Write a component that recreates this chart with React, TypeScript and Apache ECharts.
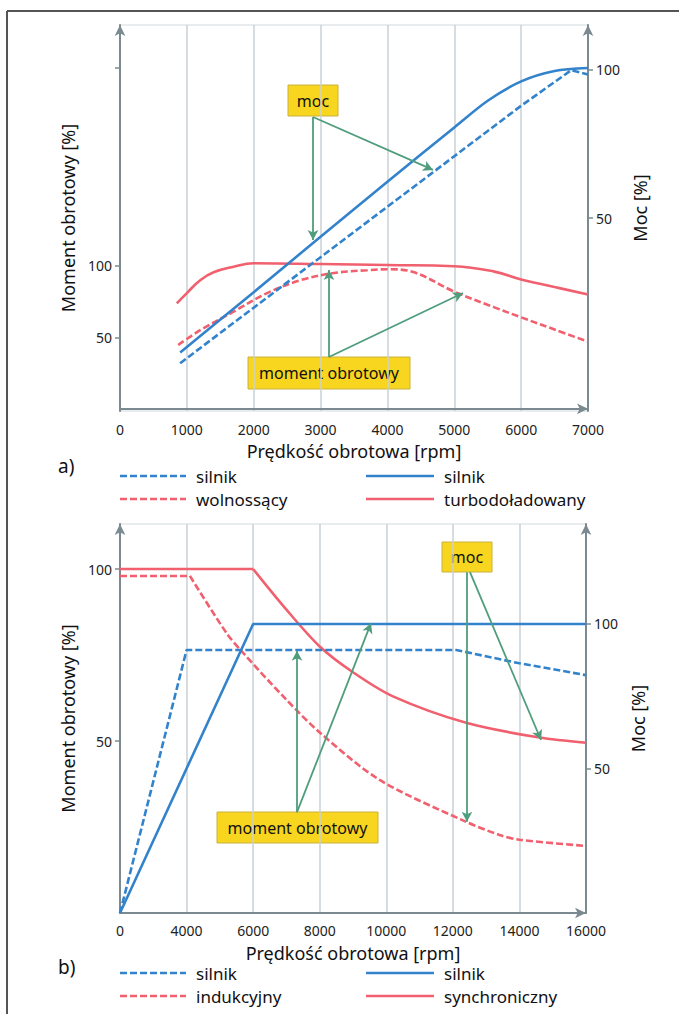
import React, { useEffect, useRef } from "react";
import * as echarts from "echarts";

// ---------- data ----------
const topRpmTicks = [0, 1000, 2000, 3000, 4000, 5000, 6000, 7000];
const bottomRpmTicks = [0, 4000, 6000, 8000, 10000, 12000, 14000, 16000];
const leftTickLabels = [50, 100];
const rightTickLabels = [50, 100];

// a) top chart – torque (left axis)
const turboRpm = [850, 1000, 1200, 1400, 1700, 2000, 3000, 4000, 5000, 5600, 6000, 6500, 7000];
const turboTorque = [73.8, 81, 90, 95.5, 99.4, 101.8, 101.3, 100.6, 99.8, 96, 90.5, 85.2, 80];
const naturalRpm = [870, 1200, 1700, 2200, 2700, 3200, 3700, 4000, 4400, 5000, 5600, 6000, 6500, 7000];
const naturalTorque = [44.7, 55, 68, 81, 90, 95, 97, 97.7, 95.5, 82, 71, 64, 55.5, 47];
// a) top chart – power (right axis)
const turboPowerRpm = [900, 2000, 3000, 4000, 5000, 5500, 6000, 6500, 7000];
const turboPower = [4.7, 25, 43.7, 62.2, 80.5, 89.5, 96, 99.5, 100.5];
const naturalPowerRpm = [900, 2000, 3000, 4000, 5000, 6000, 6750, 7000];
const naturalPower = [1.1, 19.8, 36.8, 53.8, 70.8, 87.8, 99.8, 98.3];

// b) bottom chart – torque (left axis)
const syncRpm = [0, 4000, 6000, 7000, 8000, 9000, 10200, 12400, 14600, 16000];
const syncTorque = [100, 100, 100, 88.2, 77.5, 70, 63, 55.3, 51, 49.5];
const syncBreak = 2; // index of the corner at 6000 rpm
const indRpm = [0, 4100, 5200, 5700, 7000, 8000, 9800, 12400, 13400, 14000, 16000];
const indTorque = [98, 98, 81.4, 75.6, 62, 52.5, 38.7, 26.5, 22.7, 21.3, 19.5];
const indBreak = 1; // index of the corner at 4100 rpm
// b) bottom chart – power (right axis)
const syncPowerRpm = [0, 6000, 16000];
const syncPower = [0, 100, 100];
const indPowerRpm = [0, 4000, 12100, 14000, 16000];
const indPower = [0, 91, 91, 86.4, 82.3];

// ---------- helpers ----------
const FONT = '"Noto Sans", "Open Sans", sans-serif';
const BLUE = "#3383cc";
const RED = "#f0606e";
const GREEN = "#4f9d7c";
const AXIS = "#7b8a90";
const GRIDC = "#c9d1d5";
const YELLOW = "#f8d51e";

function rpmToPos(r: number): number {
  for (let i = 0; i < bottomRpmTicks.length - 1; i++) {
    const a = bottomRpmTicks[i];
    const b = bottomRpmTicks[i + 1];
    if (r <= b) return i + (r - a) / (b - a);
  }
  return bottomRpmTicks.length - 1;
}
const zip = (xs: number[], ys: number[], fx: (v: number) => number = (v) => v) =>
  xs.map((x, i) => [fx(x), ys[i]]);

const arrowMark = (pairs: number[][][]) => ({
  silent: true,
  symbol: ["none", "arrow"],
  symbolSize: [8, 10],
  label: { show: false },
  emphasis: { disabled: true },
  lineStyle: { color: GREEN, width: 1.8, type: "solid" },
  data: pairs.map(([a, b]) => [{ coord: a }, { coord: b }]),
});

function xAxisCfg(gridIndex: number, min: number, max: number, interval: number, fmt: (v: number) => string, gap: number, margin: number) {
  return {
    type: "value",
    gridIndex,
    min,
    max,
    interval,
    name: "Prędkość obrotowa [rpm]",
    nameLocation: "middle",
    nameGap: gap,
    nameTextStyle: { fontFamily: FONT, fontSize: 18, color: "#111" },
    axisLine: { show: true, symbol: ["none", "arrow"], symbolSize: [8, 11], lineStyle: { color: AXIS, width: 2 } },
    axisTick: { show: false },
    axisLabel: { fontFamily: FONT, fontSize: 14, color: "#222", margin, formatter: fmt },
    splitLine: { show: true, lineStyle: { color: GRIDC, width: 1.5 } },
  };
}

function yAxisCfg(gridIndex: number, pos: "left" | "right", min: number, max: number, name: string, gap: number, tickVals: number[], namePad: number[] = [0, 0, 0, 0]) {
  return {
    type: "value",
    gridIndex,
    position: pos,
    min,
    max,
    name,
    nameLocation: "middle",
    nameGap: gap,
    nameTextStyle: { fontFamily: FONT, fontSize: 18, color: "#111", padding: namePad },
    axisLine: { show: true, onZero: false, symbol: ["none", "arrow"], symbolSize: [8, 11], lineStyle: { color: AXIS, width: 2 } },
    axisTick: { show: true, length: 5, lineStyle: { color: AXIS, width: 1.5 }, customValues: tickVals },
    axisLabel: { fontFamily: FONT, fontSize: 14, color: "#222", margin: 8, customValues: pos === "left" ? leftTickLabels : rightTickLabels },
    splitLine: { show: false },
  };
}

function lineSeries(name: string, data: number[][], xi: number, yi: number, color: string, dashed: boolean, smooth: number | boolean, mark?: any) {
  return {
    type: "line",
    name,
    xAxisIndex: xi,
    yAxisIndex: yi,
    data,
    showSymbol: false,
    symbol: "none",
    smooth,
    silent: true,
    lineStyle: { color, width: 2.6, type: dashed ? [7, 3] : "solid" },
    markLine: mark,
  };
}

const txt = (x: number, y: number, text: string, size: number, align = "left") => ({
  type: "text",
  x,
  y,
  style: { text, fill: "#111", font: `${size}px ${FONT}`, textAlign: align, textVerticalAlign: "middle", align, verticalAlign: "middle" },
});

function legendRow(y: number, x1: number, label1: string, c1: string, x2: number, label2: string, c2: string) {
  return [
    { type: "line", shape: { x1, y1: y, x2: x1 + 66, y2: y }, style: { stroke: c1, lineWidth: 2.6, lineDash: [7, 3] } },
    txt(x1 + 76, y, label1, 17),
    { type: "line", shape: { x1: x2, y1: y, x2: x2 + 68, y2: y }, style: { stroke: c2, lineWidth: 2.6 } },
    txt(x2 + 78, y, label2, 17),
  ];
}

function yellowBox(x: number, y: number, w: number, h: number, text: string) {
  return [
    { type: "rect", shape: { x, y, width: w, height: h }, style: { fill: YELLOW, stroke: "#c9b23c", lineWidth: 1 } },
    txt(x + w / 2, y + h / 2, text, 16, "center"),
  ];
}

export default function App() {
  const ref = useRef<HTMLDivElement>(null);
  useEffect(() => {
    document.body.style.margin = "0";
    if (!ref.current) return;
    const chart = echarts.init(ref.current, null, { renderer: "svg" });
    const syncPts = zip(syncRpm, syncTorque, rpmToPos);
    const indPts = zip(indRpm, indTorque, rpmToPos);
    const option: any = {
      animation: false,
      backgroundColor: "#ffffff",
      grid: [
        { left: 120, top: 25, width: 468, height: 386, show: true, borderColor: "#d3d9dc", borderWidth: 1 },
        { left: 120, top: 524, width: 466, height: 389, show: true, borderColor: "#d3d9dc", borderWidth: 1 },
      ],
      xAxis: [
        xAxisCfg(0, 0, 7000, 1000, (v) => String(v), 31, 11),
        xAxisCfg(1, 0, bottomRpmTicks.length - 1, 1, (v) => String(bottomRpmTicks[Math.round(v)]), 31, 10),
      ],
      yAxis: [
        yAxisCfg(0, "left", -1.5, 268.5, "Moment obrotowy [%]", 41, [50, 100, 238.4]),
        yAxisCfg(0, "right", -15, 115, "Moc [%]", 38, [50, 100], [0, 0, 0, 20]),
        yAxisCfg(1, "left", 0, 113.1, "Moment obrotowy [%]", 41, [50, 100]),
        yAxisCfg(1, "right", 0, 134.6, "Moc [%]", 36, [50, 100]),
      ],
      series: [
        lineSeries("wolnossący – moment", zip(naturalRpm, naturalTorque), 0, 0, RED, true, 0.35),
        lineSeries("turbodoładowany – moment", zip(turboRpm, turboTorque), 0, 0, RED, false, 0.45,
          arrowMark([
            [[3126, 36.3], [3126, 97.1]],
            [[3126, 36.3], [5130, 81.0]],
          ])),
        lineSeries("wolnossący – moc", zip(naturalPowerRpm, naturalPower), 0, 1, BLUE, true, false),
        lineSeries("turbodoładowany – moc", zip(turboPowerRpm, turboPower), 0, 1, BLUE, false, 0.3,
          arrowMark([
            [[2887, 84.0], [2887, 42.6]],
            [[2887, 84.0], [4682, 66.2]],
          ])),
        lineSeries("indukcyjny – moment (stały)", indPts.slice(0, indBreak + 1), 1, 2, RED, true, false),
        lineSeries("indukcyjny – moment", indPts.slice(indBreak), 1, 2, RED, true, 0.3),
        lineSeries("synchroniczny – moment (stały)", syncPts.slice(0, syncBreak + 1), 1, 2, RED, false, false),
        lineSeries("synchroniczny – moment", syncPts.slice(syncBreak), 1, 2, RED, false, 0.3,
          arrowMark([
            [[rpmToPos(12424), 99.1], [rpmToPos(12424), 26.5]],
            [[rpmToPos(12515), 99.1], [rpmToPos(14648), 50.3]],
          ])),
        lineSeries("indukcyjny – moc", zip(indPowerRpm, indPower, rpmToPos), 1, 3, BLUE, true, false),
        lineSeries("synchroniczny – moc", zip(syncPowerRpm, syncPower, rpmToPos), 1, 3, BLUE, false, false,
          arrowMark([
            [[rpmToPos(7318), 34.9], [rpmToPos(7318), 90.7]],
            [[rpmToPos(7318), 34.9], [rpmToPos(9541), 100.3]],
          ])),
      ],
      graphic: [
        { type: "line", shape: { x1: 7, y1: 11, x2: 679, y2: 11 }, style: { stroke: "#555", lineWidth: 2 } },
        { type: "line", shape: { x1: 7, y1: 11, x2: 7, y2: 1014 }, style: { stroke: "#555", lineWidth: 2 } },
        txt(58, 466, "a)", 19),
        txt(58, 967, "b)", 19),
        ...legendRow(476, 120, "silnik", BLUE, 366, "silnik", BLUE),
        ...legendRow(499, 120, "wolnossący", RED, 366, "turbodoładowany", RED),
        ...legendRow(973, 120, "silnik", BLUE, 366, "silnik", BLUE),
        ...legendRow(996, 120, "indukcyjny", RED, 366, "synchroniczny", RED),
        ...yellowBox(288, 85, 50, 31, "moc"),
        ...yellowBox(248, 357, 162, 32, "moment obrotowy"),
        ...yellowBox(442, 542, 50, 30, "moc"),
        ...yellowBox(217, 812, 161, 31, "moment obrotowy"),
      ],
    };
    chart.setOption(option);
    return () => chart.dispose();
  }, []);
  return <div ref={ref} style={{ width: 679, height: 1014 }} />;
}
